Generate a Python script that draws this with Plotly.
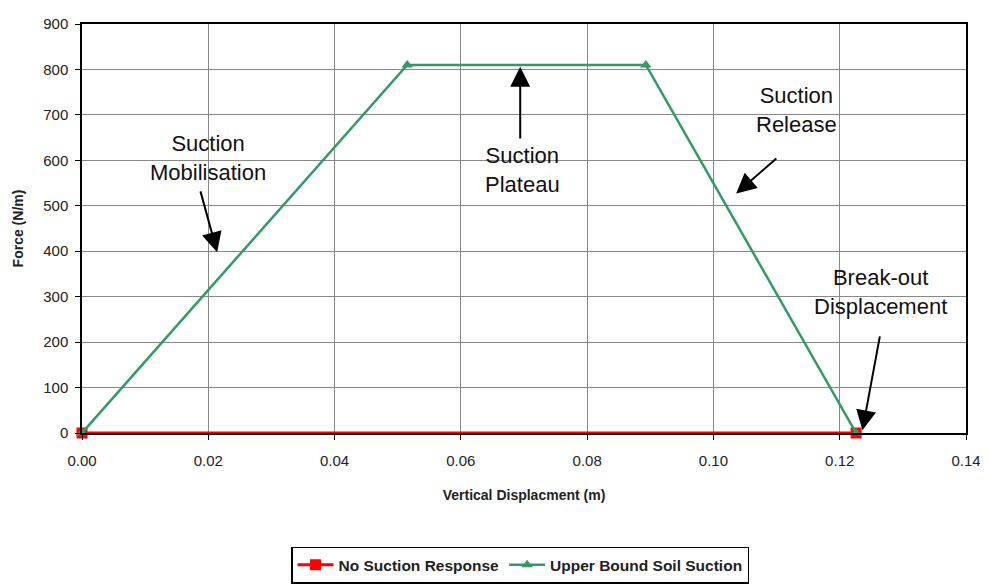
import plotly.graph_objects as go

# data
disp_none = [0.0, 0.1226]
force_none = [0, 0]
disp_upper = [0.0, 0.0515, 0.0893, 0.1226]
force_upper = [0, 810, 810, 0]

x_ticks = [0.00, 0.02, 0.04, 0.06, 0.08, 0.10, 0.12, 0.14]
y_ticks = [0, 100, 200, 300, 400, 500, 600, 700, 800, 900]

# (text, text x, text y, arrow tail x, tail y, head x, head y)
notes = [
    ("Suction<br>Mobilisation", 0.0200, 605, 0.0187, 535, 0.0214, 398),
    ("Suction<br>Plateau", 0.0697, 579, 0.0694, 645, 0.0694, 806),
    ("Suction<br>Release", 0.1132, 711, 0.1102, 607, 0.1036, 527),
    ("Break-out<br>Displacement", 0.1264, 310, 0.1264, 216, 0.1236, 6),
]

fig = go.Figure()
fig.add_trace(go.Scatter(
    x=disp_none, y=force_none, name="No Suction Response",
    mode="lines+markers",
    line=dict(color="#ff0000", width=3),
    marker=dict(symbol="square", size=11, color="#ff0000"),
    cliponaxis=False,
))
fig.add_trace(go.Scatter(
    x=disp_upper, y=force_upper, name="Upper Bound Soil Suction",
    mode="lines+markers",
    line=dict(color="#339966", width=2.5),
    marker=dict(symbol="triangle-up", size=10, color="#339966"),
    cliponaxis=False,
))

for txt, tx, ty, ax, ay, hx, hy in notes:
    fig.add_annotation(x=tx, y=ty, text=txt, showarrow=False,
                       font=dict(size=22, color="#111", family="Liberation Sans"),
                       align="center")
    fig.add_annotation(x=hx, y=hy, ax=ax, ay=ay, axref="x", ayref="y",
                       xref="x", yref="y", text="", showarrow=True,
                       arrowhead=2, arrowsize=2, arrowwidth=2,
                       arrowcolor="black")

axis_common = dict(
    showline=True, linecolor="black", linewidth=1.5, mirror=True,
    showgrid=True, gridcolor="#888888", gridwidth=1,
    ticks="outside", ticklen=5, tickcolor="black",
    tickfont=dict(size=15, color="#222", family="Liberation Sans"),
    zeroline=False, automargin=False,
)
fig.update_xaxes(range=[0, 0.14], tickvals=x_ticks, tickformat=".2f",
                 ticklabelstandoff=8,
                 title=dict(text="<b>Vertical Displacment (m)</b>",
                            font=dict(size=14, color="#222", family="Liberation Sans"),
                            standoff=22),
                 **axis_common)
fig.update_yaxes(range=[0, 900], tickvals=y_ticks,
                 ticklabelstandoff=4,
                 title=dict(text="<b>Force (N/m)</b>",
                            font=dict(size=14, color="#222", family="Liberation Sans"),
                            standoff=16),
                 **axis_common)

fig.update_layout(
    width=988, height=585,
    margin=dict(l=74, r=30, t=16, b=160, autoexpand=False),
    plot_bgcolor="white", paper_bgcolor="white",
    legend=dict(orientation="h", x=0.4955, xanchor="center",
                yref="container", y=0.016, yanchor="bottom",
                bordercolor="black", borderwidth=1.5,
                font=dict(size=15.5, color="#222", family="Liberation Sans", weight="bold"),
                itemwidth=36, tracegroupgap=0),
    showlegend=True,
)

fig.write_html("out.html")
